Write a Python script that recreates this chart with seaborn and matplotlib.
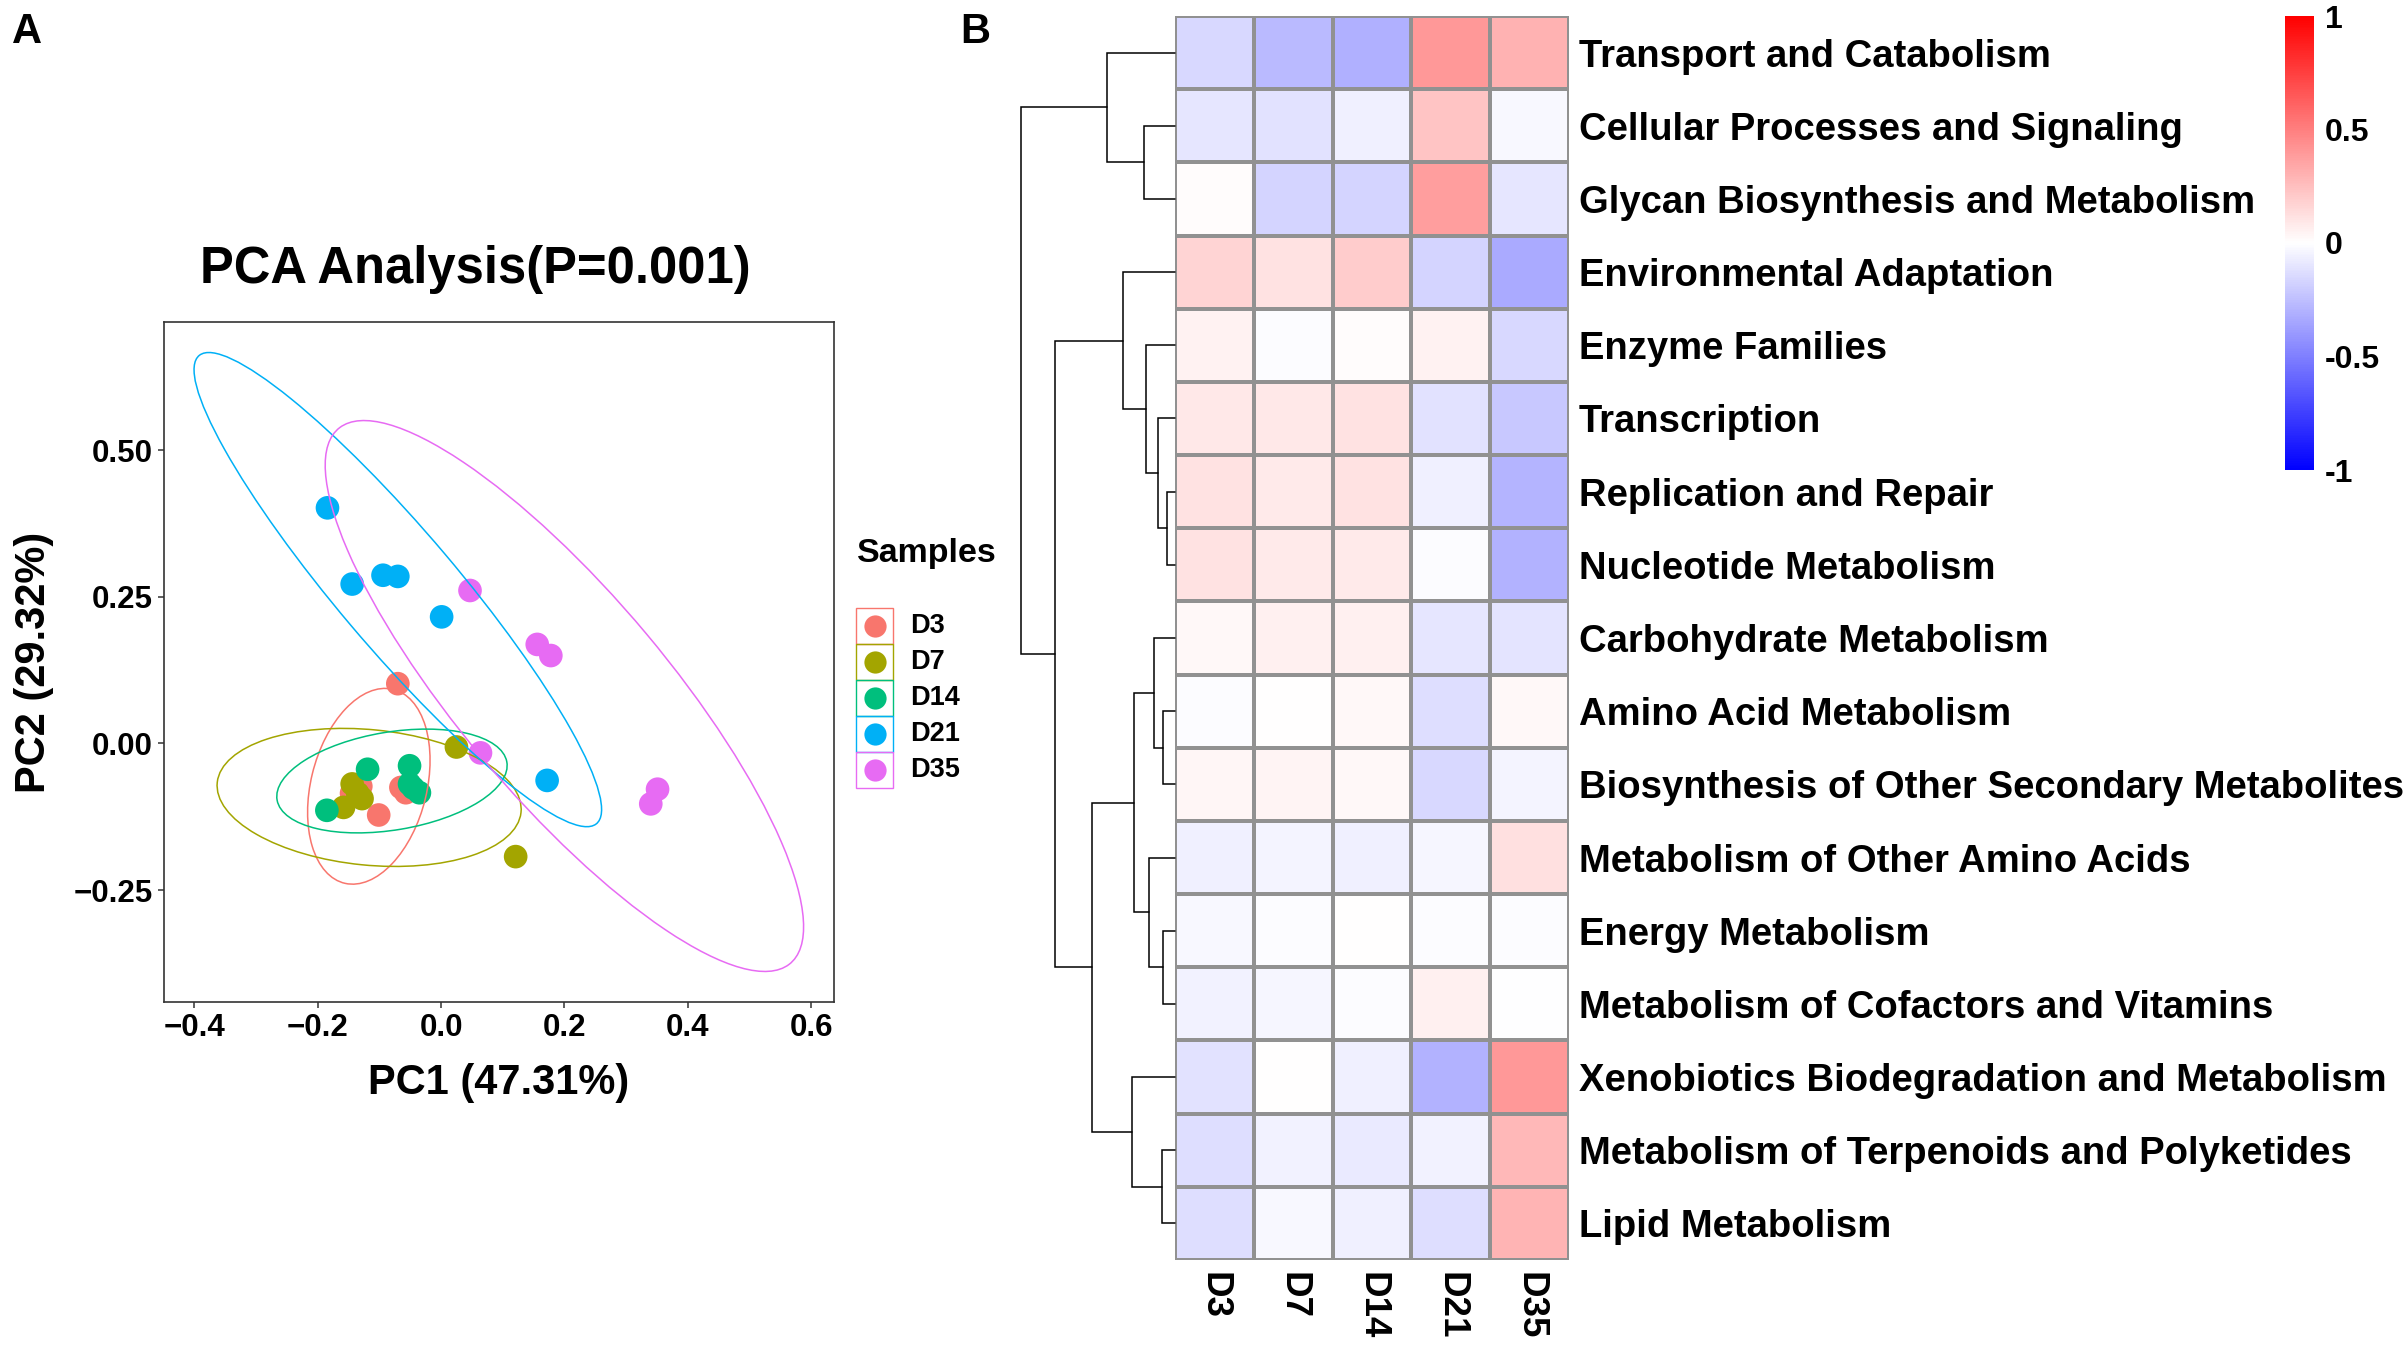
import numpy as np
import pandas as pd
import matplotlib
matplotlib.use('Agg')
import matplotlib.pyplot as plt
import seaborn as sns
from matplotlib.patches import Ellipse, Rectangle
from matplotlib.lines import Line2D

sns.set_theme(style='white')
plt.rcParams['font.family'] = ['Liberation Sans', 'DejaVu Sans']
plt.rcParams['font.weight'] = 'bold'
plt.rcParams['text.color'] = 'black'
plt.rcParams['axes.labelcolor'] = 'black'
plt.rcParams['xtick.color'] = 'black'
plt.rcParams['ytick.color'] = 'black'

# =============================================================================
# DATA - panel A (PCA)
# =============================================================================
groups = ['D3', 'D7', 'D14', 'D21', 'D35']
group_colors = ['#F8766D', '#A3A500', '#00BF7D', '#00B0F6', '#E76BF3']

sample_group = ['D3'] * 6 + ['D7'] * 6 + ['D14'] * 6 + ['D21'] * 6 + ['D35'] * 6
pc1 = [-0.070, -0.101, -0.130, -0.057, -0.145, -0.065,
       -0.144, -0.128, -0.158, 0.025, 0.121, -0.135,
       -0.119, -0.051, -0.185, -0.051, -0.035, -0.045,
       -0.184, -0.144, -0.094, -0.070, 0.001, 0.172,
       0.047, 0.156, 0.178, 0.064, 0.351, 0.340]
pc2 = [0.102, -0.122, -0.073, -0.084, -0.085, -0.075,
       -0.069, -0.094, -0.109, -0.006, -0.193, -0.085,
       -0.044, -0.038, -0.114, -0.069, -0.084, -0.076,
       0.402, 0.272, 0.287, 0.285, 0.216, -0.063,
       0.261, 0.169, 0.150, -0.016, -0.078, -0.103]

# 95% confidence ellipses (centre, full axes, angle in degrees)
ell_cx = [-0.117, -0.1165, -0.0795, -0.070, 0.200]
ell_cy = [-0.073, -0.092, -0.064, 0.2625, 0.081]
ell_w = [0.340, 0.495, 0.378, 1.026, 1.170]
ell_h = [0.188, 0.231, 0.167, 0.195, 0.340]
ell_ang = [77, -6, 10, -51.2, -51.5]

x_ticks = [-0.4, -0.2, 0.0, 0.2, 0.4, 0.6]
x_tick_labels = ['\u22120.4', '\u22120.2', '0.0', '0.2', '0.4', '0.6']
y_ticks = [-0.25, 0.0, 0.25, 0.5]
y_tick_labels = ['\u22120.25', '0.00', '0.25', '0.50']

# =============================================================================
# DATA - panel B (heatmap)
# =============================================================================
pathways = ['Transport and Catabolism', 'Cellular Processes and Signaling',
            'Glycan Biosynthesis and Metabolism', 'Environmental Adaptation',
            'Enzyme Families', 'Transcription', 'Replication and Repair',
            'Nucleotide Metabolism', 'Carbohydrate Metabolism',
            'Amino Acid Metabolism', 'Biosynthesis of Other Secondary Metabolites',
            'Metabolism of Other Amino Acids', 'Energy Metabolism',
            'Metabolism of Cofactors and Vitamins',
            'Xenobiotics Biodegradation and Metabolism',
            'Metabolism of Terpenoids and Polyketides', 'Lipid Metabolism']
val_d3 = [-0.15, -0.10, 0.01, 0.165, 0.05, 0.09, 0.11, 0.11, 0.03,
          -0.01, 0.035, -0.055, -0.03, -0.05, -0.11, -0.13, -0.13]
val_d7 = [-0.27, -0.11, -0.165, 0.11, -0.015, 0.09, 0.08, 0.08, 0.06,
          0.005, 0.04, -0.04, -0.015, -0.035, 0.005, -0.05, -0.03]
val_d14 = [-0.31, -0.055, -0.17, 0.20, 0.01, 0.11, 0.11, 0.08, 0.06,
           0.025, 0.03, -0.06, 0.005, -0.015, -0.055, -0.085, -0.055]
val_d21 = [0.40, 0.23, 0.375, -0.165, 0.05, -0.11, -0.06, -0.015, -0.10,
           -0.13, -0.15, -0.035, -0.01, 0.06, -0.30, -0.05, -0.13]
val_d35 = [0.30, -0.03, -0.10, -0.33, -0.155, -0.215, -0.29, -0.30, -0.105,
           0.03, -0.04, 0.12, -0.01, -0.005, 0.40, 0.275, 0.29]

# row dendrogram: (child a, child b, height); leaves 0..16, new nodes from 17
row_merges = [(6, 7, 0.077), (5, 17, 0.167), (4, 18, 0.287), (3, 19, 0.523),
              (1, 2, 0.313), (0, 21, 0.680), (9, 10, 0.120), (8, 23, 0.213),
              (12, 13, 0.120), (11, 25, 0.257), (24, 26, 0.410),
              (15, 16, 0.133), (14, 28, 0.433), (27, 29, 0.830),
              (20, 30, 1.207), (22, 31, 1.547)]

cbar_ticks = [1, 0.5, 0, -0.5, -1]
cbar_tick_labels = ['1', '0.5', '0', '-0.5', '-1']

# =============================================================================
# FIGURE
# =============================================================================
W, H = 2403, 1352
fig = plt.figure(figsize=(W / 100, H / 100), dpi=100)


def fx(px):
    return px / W


def fy(py):
    return 1 - py / H


# ---------------- Panel A ----------------
ax = fig.add_axes([fx(164), fy(1002), fx(834 - 164), (1002 - 322) / H])
pca_df = pd.DataFrame({'PC1': pc1, 'PC2': pc2, 'Samples': sample_group})
sns.scatterplot(data=pca_df, x='PC1', y='PC2', hue='Samples', hue_order=groups,
                palette=group_colors, s=290, linewidth=0, alpha=1,
                legend=False, ax=ax, zorder=3)
for i, g in enumerate(groups):
    ax.add_patch(Ellipse((ell_cx[i], ell_cy[i]), ell_w[i], ell_h[i],
                         angle=ell_ang[i], fill=False,
                         edgecolor=group_colors[i], linewidth=1.1, zorder=4))

ax.set_xlim(-0.449, 0.637)
ax.set_ylim(-0.441, 0.719)
ax.set_xticks(x_ticks)
ax.set_xticklabels(x_tick_labels)
ax.set_yticks(y_ticks)
ax.set_yticklabels(y_tick_labels)
ax.tick_params(axis='both', which='major', labelsize=22.5, length=4,
               width=1.1, color='#333333', labelcolor='black',
               direction='out', pad=4, bottom=True, left=True)
for lab in ax.get_xticklabels() + ax.get_yticklabels():
    lab.set_fontweight('bold')
for sp in ax.spines.values():
    sp.set_color('#333333')
    sp.set_linewidth(1.2)
ax.set_xlabel('PC1 (47.31%)', fontsize=30, fontweight='bold', labelpad=14)
ax.set_ylabel('PC2 (29.32%)', fontsize=30, fontweight='bold', labelpad=14)

fig.text(fx(475), fy(269), 'PCA Analysis(P=0.001)', fontsize=36.5,
         fontweight='bold', ha='center', va='center')
fig.text(fx(27), fy(32), 'A', fontsize=30, fontweight='bold',
         ha='center', va='center')

# legend drawn by hand (ggplot style key boxes)
fig.text(fx(857), fy(554), 'Samples', fontsize=24.5, fontweight='bold',
         ha='left', va='center')
for i, g in enumerate(groups):
    top = 608 + 36 * i
    fig.add_artist(Rectangle((fx(856), fy(top + 36)), fx(37), 36 / H,
                             fill=False, edgecolor=group_colors[i],
                             linewidth=1.0, transform=fig.transFigure))
    fig.add_artist(Line2D([fx(874.5)], [fy(top + 18)], marker='o',
                          markersize=16, markeredgewidth=0,
                          color=group_colors[i], transform=fig.transFigure))
    fig.text(fx(910), fy(top + 18), g, fontsize=19.5, fontweight='bold',
             ha='left', va='center')

# ---------------- Panel B ----------------
heat_df = pd.DataFrame({'D3': val_d3, 'D7': val_d7, 'D14': val_d14,
                        'D21': val_d21, 'D35': val_d35}, index=pathways)

hx0, hx1, hy0, hy1 = 1175, 1569, 16, 1260
ax_h = fig.add_axes([fx(hx0), fy(hy1), fx(hx1 - hx0), (hy1 - hy0) / H])
cax = fig.add_axes([fx(2285), fy(470), fx(29), (470 - 16) / H])
sns.heatmap(heat_df, cmap='bwr', vmin=-1, vmax=1, linewidths=1.5,
            linecolor='#919191', ax=ax_h, cbar_ax=cax,
            xticklabels=True, yticklabels=True)
ax_h.yaxis.tick_right()
ax_h.set_yticklabels(pathways, rotation=0, fontsize=27.5, fontweight='bold',
                     ha='left', color='black')
ax_h.set_xticklabels(heat_df.columns, rotation=270, fontsize=26.5,
                     fontweight='bold', ha='center', va='top', color='black')
ax_h.tick_params(axis='y', length=0, pad=7)
ax_h.tick_params(axis='x', length=0, pad=9)
ax_h.set_xlabel('')
ax_h.set_ylabel('')

cax.tick_params(length=0, labelsize=23, pad=8, labelcolor='black')
cax.set_yticks(cbar_ticks)
cax.set_yticklabels(cbar_tick_labels, fontweight='bold')
for sp in cax.spines.values():
    sp.set_visible(False)
cbar = ax_h.collections[0].colorbar
if cbar is not None:
    cbar.outline.set_visible(False)

fig.text(fx(975), fy(32), 'B', fontsize=30, fontweight='bold',
         ha='center', va='center')

# row dendrogram
ax_d = fig.add_axes([fx(1021), fy(hy1), fx(hx0 - 1021), (hy1 - hy0) / H])
n_leaves = len(pathways)
node_y = {i: i + 0.5 for i in range(n_leaves)}
node_h = {i: 0.0 for i in range(n_leaves)}
for k, (a, b, h) in enumerate(row_merges):
    nid = n_leaves + k
    ax_d.plot([node_h[a], h, h, node_h[b]],
              [node_y[a], node_y[a], node_y[b], node_y[b]],
              color='black', linewidth=1.1, clip_on=False,
              solid_joinstyle='miter')
    node_y[nid] = (node_y[a] + node_y[b]) / 2
    node_h[nid] = h
ax_d.set_xlim(max(m[2] for m in row_merges), 0)
ax_d.set_ylim(n_leaves, 0)
ax_d.axis('off')

fig.savefig('out.png', dpi=100)
